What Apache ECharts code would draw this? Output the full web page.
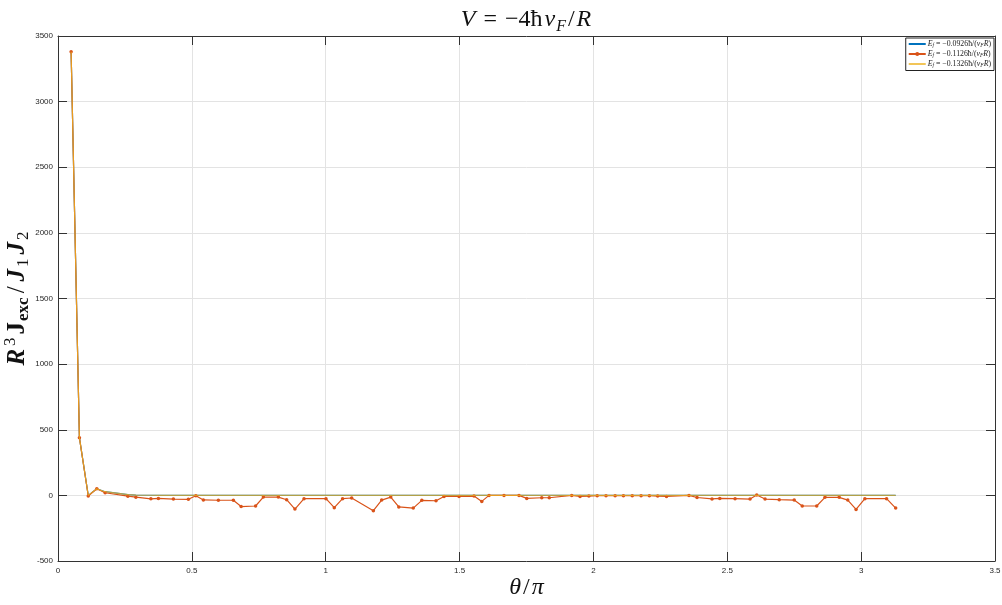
<!DOCTYPE html>
<html>
<head>
<meta charset="utf-8">
<script src="https://cdn.jsdelivr.net/npm/echarts@6/dist/echarts.min.js"></script>
<style>
  html, body { margin: 0; padding: 0; background: #ffffff; }
  #chart { width: 1002px; height: 605px; }
</style>
</head>
<body>
<div id="chart"></div>
<script>
// Angle samples (θ/π axis) shared by the three curves
const theta = [
  0.049, 0.080, 0.113, 0.145, 0.176, 0.261, 0.291, 0.347, 0.375, 0.431,
  0.487, 0.515, 0.543, 0.599, 0.655, 0.684, 0.738, 0.767, 0.823, 0.854,
  0.885, 0.919, 1.001, 1.032, 1.063, 1.097, 1.178, 1.209, 1.243, 1.273,
  1.327, 1.359, 1.412, 1.442, 1.498, 1.554, 1.583, 1.610, 1.666, 1.722,
  1.751, 1.807, 1.835, 1.919, 1.950, 1.983, 2.014, 2.047, 2.081, 2.112,
  2.145, 2.178, 2.209, 2.240, 2.273, 2.357, 2.387, 2.443, 2.472, 2.529,
  2.585, 2.610, 2.641, 2.694, 2.750, 2.780, 2.834, 2.865, 2.918, 2.950,
  2.981, 3.014, 3.095, 3.129
];

// R^3 J_exc / (J1 J2) for E_f = -0.0926 ħ/(v_F R)
const jExcA = [
  3380, 440, 0, 50, 28, 5, 2, 1, 0, 0,
  0, 0, 0, 0, 0, 0, 0, 0, 0, 0,
  0, 0, 0, 0, 0, 0, 0, 0, 0, 0,
  0, 0, 0, 0, 0, 0, 0, 0, 0, 0,
  0, 0, 0, 0, 0, 0, 0, 0, 0, 0,
  0, 0, 0, 0, 0, 0, 0, 0, 0, 0,
  0, 0, 0, 0, 0, 0, 0, 0, 0, 0,
  0, 0, 0, 0
];

// R^3 J_exc / (J1 J2) for E_f = -0.1126 ħ/(v_F R)
const jExcB = [
  3380, 440, -5, 50, 20, -6, -14, -26, -23, -28,
  -30, -3, -35, -37, -37, -85, -81, -13, -13, -33,
  -104, -25, -25, -94, -25, -20, -117, -36, -13, -88,
  -97, -38, -41, -8, -8, -5, -46, 0, 0, 0,
  -23, -18, -18, 0, -8, -5, -3, -3, -3, -3,
  -3, -3, -3, -5, -8, 0, -16, -27, -23, -25,
  -28, 3, -28, -33, -36, -81, -81, -15, -15, -36,
  -107, -25, -25, -97
];

// R^3 J_exc / (J1 J2) for E_f = -0.1326 ħ/(v_F R)
const jExcC = [
  3380, 440, 0, 50, 28, 5, 2, 1, 0, 0,
  0, 0, 0, 0, 0, 0, 0, 0, 0, 0,
  0, 0, 0, 0, 0, 0, 0, 0, 0, 0,
  0, 0, 0, 0, 0, 0, 0, 0, 0, 0,
  0, 0, 0, 0, 0, 0, 0, 0, 0, 0,
  0, 0, 0, 0, 0, 0, 0, 0, 0, 0,
  0, 0, 0, 0, 0, 0, 0, 0, 0, 0,
  0, 0, 0, 0
];

// Legend entries (rich-text markup for E_f = ... ħ/(v_F R))
const seriesNames = ['efA', 'efB', 'efC'];
const legendLabels = {
  efA: '{i|E}{s|f}{n| = −0.0926ħ/(}{i|v}{s|F}{i|R}{n|)}',
  efB: '{i|E}{s|f}{n| = −0.1126ħ/(}{i|v}{s|F}{i|R}{n|)}',
  efC: '{i|E}{s|f}{n| = −0.1326ħ/(}{i|v}{s|F}{i|R}{n|)}'
};

// Axis ranges and tick spacing
const xRange = { min: 0, max: 3.5, interval: 0.5 };
const yRange = { min: -500, max: 3500, interval: 500 };

const pairs = (ys) => theta.map((t, i) => [t, ys[i]]);

const SERIF = '"Liberation Serif", "DejaVu Serif", serif';
const SANS = '"Liberation Sans", Helvetica, Arial, sans-serif';
const AXIS_COLOR = '#333333';

const chart = echarts.init(document.getElementById('chart'), null, { renderer: 'canvas' });

const frameAxisCommon = {
  axisLine: { show: true, onZero: false, lineStyle: { color: AXIS_COLOR, width: 1 } },
  axisTick: { show: true, inside: true, length: 9, lineStyle: { color: AXIS_COLOR, width: 1 } },
  splitLine: { show: false },
  axisLabel: { show: false }
};

chart.setOption({
  animation: false,
  backgroundColor: '#ffffff',
  title: {
    text: '{i|V}{op|=}{n|−4ħ}{i|v}{s|F}{n|/}{i|R}',
    left: 521,
    top: 0,
    textAlign: 'center',
    textStyle: {
      fontWeight: 'normal',
      rich: {
        i: { fontFamily: SERIF, fontStyle: 'italic', fontWeight: 'normal', fontSize: 24, color: '#111', padding: [0, 1, 0, 1] },
        n: { fontFamily: SERIF, fontWeight: 'normal', fontSize: 24, color: '#111', padding: [0, 1, 0, 1] },
        op: { fontFamily: SERIF, fontWeight: 'normal', fontSize: 24, color: '#111', padding: [0, 7, 0, 7] },
        s: { fontFamily: SERIF, fontStyle: 'italic', fontWeight: 'normal', fontSize: 16, color: '#111', padding: [14, 1, 0, 0] }
      }
    }
  },
  legend: {
    data: [
      { name: 'efA', itemStyle: { opacity: 0 } },
      { name: 'efB' },
      { name: 'efC', itemStyle: { opacity: 0 } }
    ],
    orient: 'vertical',
    right: 8,
    top: 38,
    itemWidth: 17,
    itemHeight: 5,
    itemGap: 1.5,
    padding: [2, 3, 2, 2],
    borderColor: '#222',
    borderWidth: 1,
    borderRadius: 0,
    backgroundColor: '#ffffff',
    formatter: (name) => legendLabels[name],
    textStyle: {
      padding: [0, 0, 0, -3],
      rich: {
        i: { fontFamily: SERIF, fontStyle: 'italic', fontSize: 7.8, color: '#222' },
        n: { fontFamily: SERIF, fontSize: 7.8, color: '#222' },
        s: { fontFamily: SERIF, fontStyle: 'italic', fontSize: 5.5, color: '#222', padding: [3, 0, 0, 0] }
      }
    }
  },
  grid: { left: 58, right: 7, top: 36, bottom: 44, containLabel: false, outerBoundsMode: 'none' },
  xAxis: [
    {
      type: 'value',
      min: xRange.min,
      max: xRange.max,
      interval: xRange.interval,
      position: 'bottom',
      name: '{i|θ}{n|/}{i|π}',
      nameLocation: 'middle',
      nameGap: 15,
      nameMoveOverlap: false,
      nameTextStyle: {
        rich: {
          i: { fontFamily: SERIF, fontStyle: 'italic', fontSize: 24, color: '#111', padding: [0, 1, 0, 1] },
          n: { fontFamily: SERIF, fontSize: 24, color: '#111', padding: [0, 1, 0, 1] }
        }
      },
      axisLine: { show: true, onZero: false, lineStyle: { color: AXIS_COLOR, width: 1 } },
      axisTick: { show: true, inside: true, length: 9, lineStyle: { color: AXIS_COLOR, width: 1 } },
      axisLabel: { fontFamily: SANS, fontSize: 8, color: '#262626', margin: 6, formatter: (v) => String(v) },
      splitLine: { show: true, lineStyle: { color: '#e3e3e3', width: 1 } }
    },
    Object.assign({
      type: 'value',
      min: xRange.min,
      max: xRange.max,
      interval: xRange.interval,
      position: 'top'
    }, frameAxisCommon)
  ],
  yAxis: [
    {
      type: 'value',
      min: yRange.min,
      max: yRange.max,
      interval: yRange.interval,
      position: 'left',
      name: '{i|R}{sup|3}{b|J}{bs|exc}{n|/}{i|J}{s|1}{i|J}{s|2}',
      nameLocation: 'middle',
      nameRotate: 90,
      nameGap: 25,
      nameMoveOverlap: false,
      nameTextStyle: {
        rich: {
          i: { fontFamily: SERIF, fontStyle: 'italic', fontWeight: 'bold', fontSize: 25, color: '#111', padding: [0, 2, 0, 2] },
          n: { fontFamily: SERIF, fontSize: 25, color: '#111', padding: [0, 3, 0, 3] },
          b: { fontFamily: SERIF, fontWeight: 'bold', fontSize: 25, color: '#111', padding: [0, 1, 0, 2] },
          bs: { fontFamily: SERIF, fontWeight: 'bold', fontSize: 17, color: '#111', padding: [13, 1, 0, 0] },
          s: { fontFamily: SERIF, fontSize: 17, color: '#111', padding: [13, 2, 0, 0] },
          sup: { fontFamily: SERIF, fontSize: 17, color: '#111', padding: [0, 1, 14, 1] }
        }
      },
      axisLine: { show: true, onZero: false, lineStyle: { color: AXIS_COLOR, width: 1 } },
      axisTick: { show: true, inside: true, length: 9, lineStyle: { color: AXIS_COLOR, width: 1 } },
      axisLabel: { fontFamily: SANS, fontSize: 8, color: '#262626', margin: 5, formatter: (v) => String(v) },
      splitLine: { show: true, lineStyle: { color: '#e3e3e3', width: 1 } }
    },
    Object.assign({
      type: 'value',
      min: yRange.min,
      max: yRange.max,
      interval: yRange.interval,
      position: 'right'
    }, frameAxisCommon)
  ],
  series: [
    {
      name: 'efA',
      type: 'line',
      xAxisIndex: 0,
      yAxisIndex: 0,
      data: pairs(jExcA),
      symbol: 'none',
      lineStyle: { color: '#0072BD', width: 1.2 },
      itemStyle: { color: '#0072BD' },
      z: 2
    },
    {
      name: 'efB',
      type: 'line',
      xAxisIndex: 0,
      yAxisIndex: 0,
      data: pairs(jExcB),
      symbol: 'circle',
      symbolSize: 3.5,
      showSymbol: true,
      lineStyle: { color: '#D95319', width: 1.2 },
      itemStyle: { color: '#D95319' },
      z: 3
    },
    {
      name: 'efC',
      type: 'line',
      xAxisIndex: 0,
      yAxisIndex: 0,
      data: pairs(jExcC),
      symbol: 'none',
      lineStyle: { color: '#EDB120', width: 1.2, opacity: 0.75 },
      itemStyle: { color: '#EDB120' },
      z: 4
    }
  ]
});
</script>
</body>
</html>
